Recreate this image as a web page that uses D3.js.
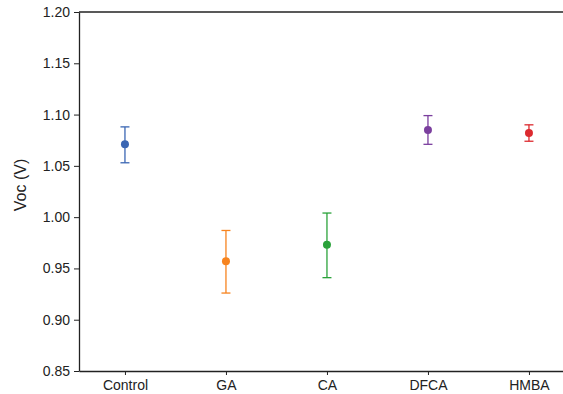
<!DOCTYPE html>
<html>
<head>
<meta charset="utf-8">
<script src="https://cdn.jsdelivr.net/npm/d3@7"></script>
<style>
  body { margin: 0; background: #fff; }
  text { font-family: "Liberation Sans", Arial, sans-serif; }
</style>
</head>
<body>
<div id="chart"></div>
<script>
// data
var groups = ["Control", "GA", "CA", "DFCA", "HMBA"];
var voc = [1.071, 0.957, 0.973, 1.085, 1.082];
var errLow = [1.053, 0.926, 0.941, 1.071, 1.074];
var errHigh = [1.088, 0.987, 1.004, 1.099, 1.090];
var colors = ["#3a66b3", "#f7841f", "#2aa23a", "#7b3f9e", "#dc2a2f"];
var yTicks = [0.85, 0.90, 0.95, 1.00, 1.05, 1.10, 1.15, 1.20];

var W = 563, H = 394;
var margin = {top: 12, right: 0, bottom: 23, left: 79},
    width = W - margin.left - margin.right,
    height = H - margin.top - margin.bottom;

var svg = d3.select("#chart")
  .append("svg")
    .attr("width", W)
    .attr("height", H)
  .append("g")
    .attr("transform", "translate(" + margin.left + "," + margin.top + ")");

// x is positional (0..4), plot is cropped on the right
var x = d3.scaleLinear()
    .domain([-0.455, 4.337])
    .range([0, width]);

var y = d3.scaleLinear()
    .domain([0.85, 1.20])
    .range([height, 0]);

// axes
var xAxis = svg.append("g")
    .attr("transform", "translate(0," + height + ")")
    .call(d3.axisBottom(x)
      .tickValues(d3.range(groups.length))
      .tickFormat(function(i) { return groups[i]; })
      .tickSize(4).tickSizeOuter(0));

var yAxis = svg.append("g")
    .call(d3.axisLeft(y)
      .tickValues(yTicks)
      .tickFormat(d3.format(".2f"))
      .tickSize(5).tickSizeOuter(0));

[xAxis, yAxis].forEach(function(a) {
  a.select(".domain").attr("stroke", "#222").attr("stroke-width", 1.3);
  a.selectAll(".tick line").attr("stroke", "#222").attr("stroke-width", 1);
  a.selectAll(".tick text").attr("fill", "#222").style("font-size", "14px")
    .style("font-family", "'Liberation Sans', Arial, sans-serif");
});
xAxis.selectAll(".tick text").attr("y", 9).attr("dy", "0.71em");
yAxis.selectAll(".tick text").attr("x", -9);

// top spine
svg.append("line")
    .attr("x1", 0).attr("x2", width)
    .attr("y1", 0).attr("y2", 0)
    .attr("stroke", "#222").attr("stroke-width", 1.3);

// y label
svg.append("text")
    .attr("transform", "translate(" + (22 - margin.left) + "," + (185 - margin.top) + ") rotate(-90)")
    .attr("text-anchor", "middle")
    .attr("dominant-baseline", "middle")
    .attr("fill", "#222")
    .style("font-size", "16px")
    .text("Voc (V)");

// error bars
var pts = svg.selectAll(".pt")
  .data(groups.map(function(g, i) { return i; }))
  .enter().append("g");

var cap = 4.5;
pts.append("line")
    .attr("x1", function(i) { return x(i); })
    .attr("x2", function(i) { return x(i); })
    .attr("y1", function(i) { return y(errLow[i]); })
    .attr("y2", function(i) { return y(errHigh[i]); })
    .attr("stroke", function(i) { return colors[i]; })
    .attr("stroke-width", 1.3);
pts.append("line")
    .attr("x1", function(i) { return x(i) - cap; })
    .attr("x2", function(i) { return x(i) + cap; })
    .attr("y1", function(i) { return y(errHigh[i]); })
    .attr("y2", function(i) { return y(errHigh[i]); })
    .attr("stroke", function(i) { return colors[i]; })
    .attr("stroke-width", 1.3);
pts.append("line")
    .attr("x1", function(i) { return x(i) - cap; })
    .attr("x2", function(i) { return x(i) + cap; })
    .attr("y1", function(i) { return y(errLow[i]); })
    .attr("y2", function(i) { return y(errLow[i]); })
    .attr("stroke", function(i) { return colors[i]; })
    .attr("stroke-width", 1.3);
pts.append("circle")
    .attr("cx", function(i) { return x(i); })
    .attr("cy", function(i) { return y(voc[i]); })
    .attr("r", 4)
    .attr("fill", function(i) { return colors[i]; });
</script>
</body>
</html>
